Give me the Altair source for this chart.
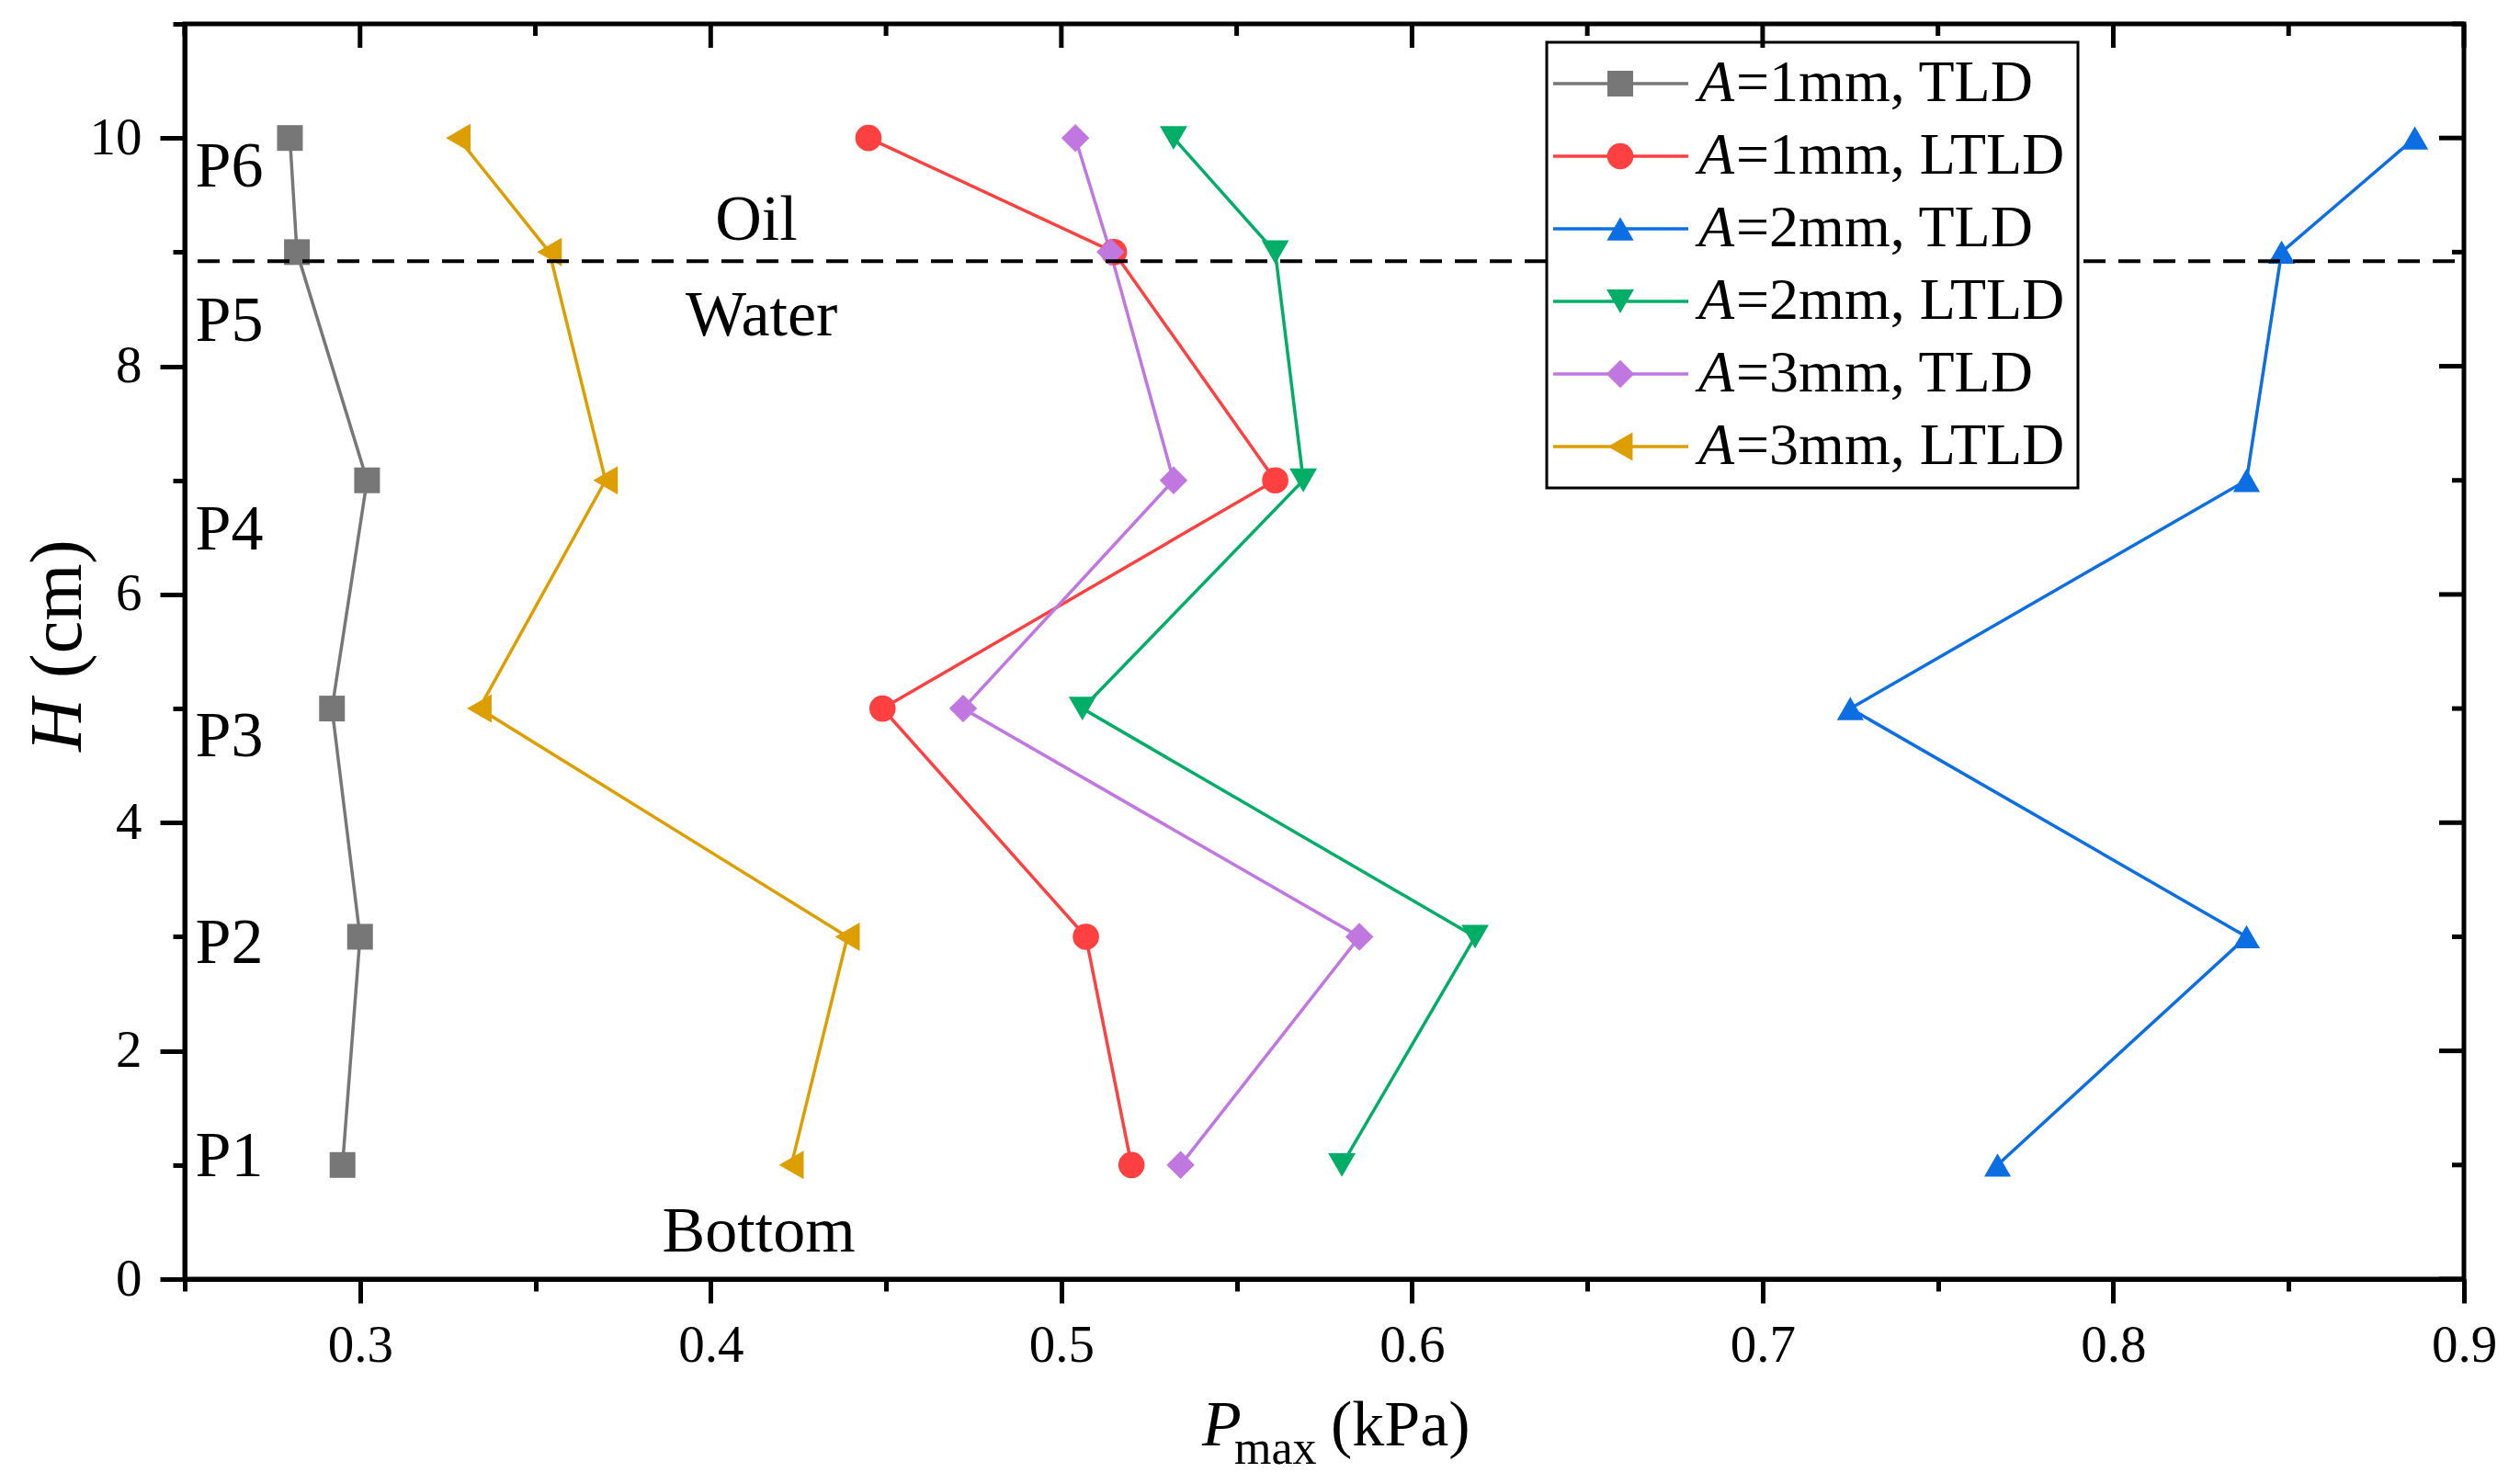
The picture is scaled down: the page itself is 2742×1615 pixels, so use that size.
import altair as alt
import pandas as pd

# Heights of the six probes (cm)
H_LEVELS = [1, 3, 5, 7, 9, 10]

SERIES = ["A=1mm, TLD", "A=1mm, LTLD", "A=2mm, TLD",
          "A=2mm, LTLD", "A=3mm, TLD", "A=3mm, LTLD"]
SERIES_TAIL = ["=1mm, TLD", "=1mm, LTLD", "=2mm, TLD",
               "=2mm, LTLD", "=3mm, TLD", "=3mm, LTLD"]

# Peak pressure (kPa) at H = 1, 3, 5, 7, 9, 10 cm
P_A1_TLD = [0.295, 0.300, 0.292, 0.302, 0.282, 0.280]
P_A1_LTLD = [0.520, 0.507, 0.449, 0.561, 0.515, 0.445]
P_A2_TLD = [0.767, 0.838, 0.725, 0.838, 0.848, 0.886]
P_A2_LTLD = [0.580, 0.618, 0.506, 0.569, 0.561, 0.532]
P_A3_TLD = [0.534, 0.585, 0.472, 0.532, 0.514, 0.504]
P_A3_LTLD = [0.423, 0.439, 0.334, 0.370, 0.354, 0.328]

COLORS = ["#777777", "#FF4040", "#0B6FE3", "#00AE67", "#C077E0", "#DD9F00"]
SHAPES = ["square", "circle", "triangle-up", "triangle-down", "diamond", "triangle-left"]
SIZES = [784, 961, 1330, 1260, 1369, 1296]

X_TICKS = [0.25, 0.3, 0.35, 0.4, 0.45, 0.5, 0.55, 0.6, 0.65, 0.7, 0.75, 0.8, 0.85, 0.9]
Y_TICKS = [0, 1, 2, 3, 4, 5, 6, 7, 8, 9, 10, 11]

INTERFACE_H = 8.92

P_LABELS = ["P1", "P2", "P3", "P4", "P5", "P6"]
P_LABEL_X = [0.253, 0.253, 0.253, 0.253, 0.253, 0.253]
P_LABEL_Y = [1.07, 2.94, 4.75, 6.56, 8.39, 9.74]

PHASE_LABELS = ["Oil", "Water", "Bottom"]
PHASE_X = [0.413, 0.4145, 0.4137]
PHASE_Y = [9.28, 8.44, 0.41]

FONT = "Liberation Serif"
W, H = 2480, 1366

values = [P_A1_TLD, P_A1_LTLD, P_A2_TLD, P_A2_LTLD, P_A3_TLD, P_A3_LTLD]
df = pd.DataFrame({
    "series": [s for s in SERIES for _ in H_LEVELS],
    "H": H_LEVELS * len(SERIES),
    "P": [v for vals in values for v in vals],
})

x_scale = alt.Scale(domain=[0.25, 0.9], nice=False, zero=False)
y_scale = alt.Scale(domain=[0, 11], nice=False)
color_scale = alt.Scale(domain=SERIES, range=COLORS)
shape_scale = alt.Scale(domain=SERIES, range=SHAPES)
size_scale = alt.Scale(domain=SERIES, range=SIZES)

x_major = "round(datum.value * 100) % 10 == 0"
y_major = "datum.value % 2 == 0"

x_axis = alt.Axis(
    values=X_TICKS, title=None, grid=False,
    labelExpr=f"{x_major} ? format(datum.value, '.1f') : ''",
    tickSize={"condition": {"test": x_major, "value": 26}, "value": 13},
    tickWidth=5, tickColor="black", domainWidth=5, domainColor="black",
    labelFont=FONT, labelFontSize=57, labelColor="black",
    labelPadding=18, labelFlush=False, labelOverlap=False,
)
y_axis = alt.Axis(
    values=Y_TICKS, title=None, grid=False,
    labelExpr=f"{y_major} ? datum.label : ''",
    tickSize={"condition": {"test": y_major, "value": 27}, "value": 13},
    tickWidth=5, tickColor="black", domainWidth=5, domainColor="black",
    labelFont=FONT, labelFontSize=57, labelColor="black",
    labelPadding=20, labelFlush=False, labelOverlap=False,
)


def px(field):
    return alt.X(field, scale=x_scale, axis=x_axis)


def hy(field):
    return alt.Y(field, scale=y_scale, axis=y_axis)


base = alt.Chart(df).encode(
    x=px("P:Q"),
    y=hy("H:Q"),
    color=alt.Color("series:N", scale=color_scale, legend=None),
)

lines = base.mark_line(strokeWidth=3.5).encode(order=alt.Order("H:Q"))
points = base.mark_point(filled=True, opacity=1).encode(
    shape=alt.Shape("series:N", scale=shape_scale, legend=None),
    size=alt.Size("series:N", scale=size_scale, legend=None),
)

# Oil / water interface
interface = alt.Chart(pd.DataFrame({"h": [INTERFACE_H]})).mark_rule(
    color="black", strokeWidth=4, strokeDash=[24, 14]
).encode(
    y=hy("h:Q"),
    x=alt.value(14), x2=alt.value(W),
)

# Text annotations
p_text = alt.Chart(pd.DataFrame({"t": P_LABELS, "x": P_LABEL_X, "y": P_LABEL_Y})).mark_text(
    font=FONT, fontSize=70, align="left", baseline="middle", color="black"
).encode(x=px("x:Q"), y=hy("y:Q"), text="t:N")
phase_text = alt.Chart(pd.DataFrame({"t": PHASE_LABELS, "x": PHASE_X, "y": PHASE_Y})).mark_text(
    font=FONT, fontSize=70, align="center", baseline="middle", color="black"
).encode(x=px("x:Q"), y=hy("y:Q"), text="t:N")

# Inward ticks on the top and right frame
top_ticks = alt.Chart(pd.DataFrame({"v": X_TICKS})).transform_calculate(
    tl="round(datum.v * 100) % 10 == 0 ? 26 : 13"
).mark_rule(color="black", strokeWidth=5).encode(
    x=px("v:Q"),
    y=alt.Y("tl:Q", scale=None, axis=None),
    y2=alt.value(0),
)
right_ticks = alt.Chart(pd.DataFrame({"v": Y_TICKS})).transform_calculate(
    tl=f"{W} - (datum.v % 2 == 0 ? 27 : 13)"
).mark_rule(color="black", strokeWidth=5).encode(
    y=hy("v:Q"),
    x=alt.X("tl:Q", scale=None, axis=None),
    x2=alt.value(W),
)

# Legend drawn by hand so the "A" can be italic
leg_df = pd.DataFrame({"series": SERIES, "tail": SERIES_TAIL, "row": list(range(len(SERIES)))})
leg = alt.Chart(leg_df).transform_calculate(ly="65 + datum.row * 79")
leg_y = alt.Y("ly:Q", scale=None, axis=None)

legend_box = alt.Chart(pd.DataFrame({"b": [0]})).mark_rect(
    fill="white", stroke="black", strokeWidth=3
).encode(x=alt.value(1482), x2=alt.value(2060), y=alt.value(20), y2=alt.value(505))
legend_lines = leg.mark_rule(strokeWidth=3.5).encode(
    x=alt.value(1489), x2=alt.value(1636), y=leg_y,
    color=alt.Color("series:N", scale=color_scale, legend=None),
)
legend_pts = leg.mark_point(filled=True, opacity=1).encode(
    x=alt.value(1562), y=leg_y,
    color=alt.Color("series:N", scale=color_scale, legend=None),
    shape=alt.Shape("series:N", scale=shape_scale, legend=None),
    size=alt.Size("series:N", scale=size_scale, legend=None),
)
legend_a = leg.mark_text(
    text="A", font=FONT, fontSize=64, fontStyle="italic", align="left", baseline="middle", color="black"
).encode(x=alt.value(1647), y=leg_y)
legend_tail = leg.mark_text(
    font=FONT, fontSize=64, align="left", baseline="middle", color="black"
).encode(x=alt.value(1688), y=leg_y, text="tail:N")

# Axis titles with italic symbols and subscript
title_df = pd.DataFrame({"b": [0]})
x_title_p = alt.Chart(title_df).mark_text(
    text="P", font=FONT, fontSize=70, fontStyle="italic", align="left", baseline="alphabetic"
).encode(x=alt.value(1107), y=alt.value(1547))
x_title_sub = alt.Chart(title_df).mark_text(
    text="max", font=FONT, fontSize=52, align="left", baseline="alphabetic"
).encode(x=alt.value(1142), y=alt.value(1567))
x_title_unit = alt.Chart(title_df).mark_text(
    text="(kPa)", font=FONT, fontSize=70, align="left", baseline="alphabetic"
).encode(x=alt.value(1247), y=alt.value(1547))
y_title_h = alt.Chart(title_df).mark_text(
    text="H", font=FONT, fontSize=80, fontStyle="italic", align="left", baseline="alphabetic", angle=270
).encode(x=alt.value(-113), y=alt.value(792))
y_title_unit = alt.Chart(title_df).mark_text(
    text="(cm)", font=FONT, fontSize=80, align="left", baseline="alphabetic", angle=270
).encode(x=alt.value(-113), y=alt.value(712))

chart = alt.layer(
    lines, points, interface, p_text, phase_text,
    legend_box, legend_lines, legend_pts, legend_a, legend_tail,
    top_ticks, right_ticks,
    x_title_p, x_title_sub, x_title_unit, y_title_h, y_title_unit,
).properties(
    width=W, height=H,
    autosize=alt.AutoSizeParams(type="none"),
    padding={"left": 193, "top": 18, "right": 45, "bottom": 220},
    background="white",
).configure_view(stroke="black", strokeWidth=5)

chart.save("out.html", embed_options={"renderer": "svg", "actions": False})
